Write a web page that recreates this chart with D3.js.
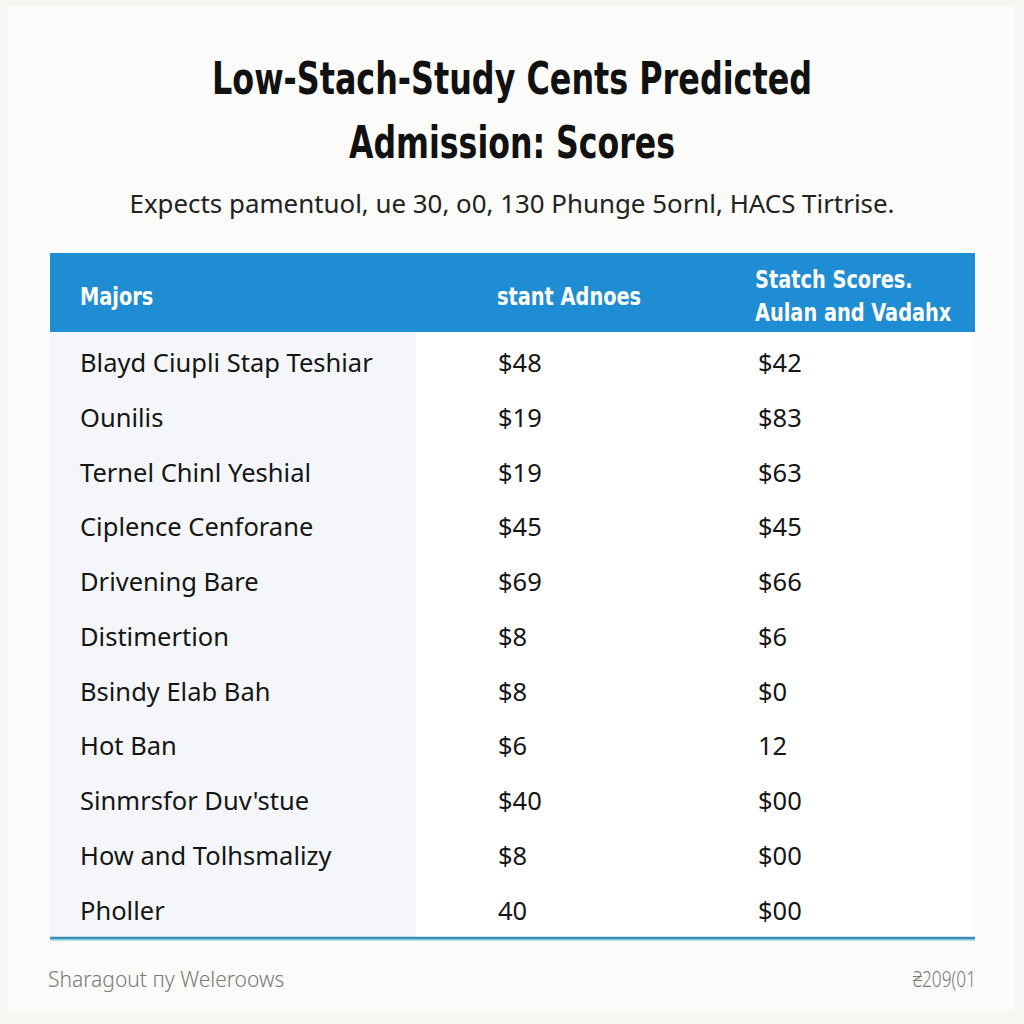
<!DOCTYPE html>
<html>
<head>
<meta charset="utf-8">
<script src="https://cdn.jsdelivr.net/npm/d3@7"></script>
<style>
  body { margin: 0; background: #f7f6f3; }
  svg { display: block; }
</style>
</head>
<body>
<svg id="chart" width="1024" height="1024"></svg>
<script>
// table content
const majors = [
  "Blayd Ciupli Stap Teshiar",
  "Ounilis",
  "Ternel Chinl Yeshial",
  "Ciplence Cenforane",
  "Drivening Bare",
  "Distimertion",
  "Bsindy Elab Bah",
  "Hot Ban",
  "Sinmrsfor Duv'stue",
  "How and Tolhsmalizy",
  "Pholler"
];
const admissions = ["$48", "$19", "$19", "$45", "$69", "$8", "$8", "$6", "$40", "$8", "40"];
const scores = ["$42", "$83", "$63", "$45", "$66", "$6", "$0", "12", "$00", "$00", "$00"];
const columns = ["Majors", "stant Adnoes", ["Statch Scores.", "Aulan and Vadahx"]];

const rows = majors.map((m, i) => ({major: m, adm: admissions[i], score: scores[i]}));

const svg = d3.select("#chart");
const W = 1024;
const left = 50, right = 975;
const condensed = "'DejaVu Sans Condensed', 'DejaVu Sans', sans-serif";
const body = "'Noto Sans', 'Open Sans', sans-serif";

// narrow a text node horizontally so the wide fallback font looks condensed
const squeeze = (sel, k) => sel.each(function() {
  const len = this.getComputedTextLength();
  d3.select(this).attr("textLength", len * k).attr("lengthAdjust", "spacingAndGlyphs");
});

// card
svg.append("rect")
    .attr("x", 8).attr("y", 7)
    .attr("width", 1007).attr("height", 1004)
    .attr("fill", "#fbfbf9");

// title
svg.append("text")
    .attr("x", W / 2).attr("y", 94)
    .attr("text-anchor", "middle")
    .attr("font-family", condensed)
    .attr("font-weight", "bold")
    .attr("font-size", 45)
    .attr("fill", "#111")
    .attr("textLength", 600)
    .attr("lengthAdjust", "spacingAndGlyphs")
    .text("Low-Stach-Study Cents Predicted");
svg.append("text")
    .attr("x", W / 2).attr("y", 158)
    .attr("text-anchor", "middle")
    .attr("font-family", condensed)
    .attr("font-weight", "bold")
    .attr("font-size", 45)
    .attr("fill", "#111")
    .attr("textLength", 326)
    .attr("lengthAdjust", "spacingAndGlyphs")
    .text("Admission: Scores");

svg.append("text")
    .attr("x", W / 2).attr("y", 213)
    .attr("text-anchor", "middle")
    .attr("font-family", body)
    .attr("font-size", 26)
    .attr("fill", "#222")
    .attr("textLength", 765)
    .attr("lengthAdjust", "spacingAndGlyphs")
    .text("Expects pamentuol, ue 30, o0, 130 Phunge 5ornl, HACS Tirtrise.");

// body backgrounds
const tableTop = 332, tableBottom = 937;
svg.append("rect")
    .attr("x", left).attr("y", tableTop)
    .attr("width", right - left).attr("height", tableBottom - tableTop)
    .attr("fill", "#ffffff");
svg.append("rect")
    .attr("x", left).attr("y", tableTop)
    .attr("width", 366).attr("height", tableBottom - tableTop)
    .attr("fill", "#f4f6fa");

// header
svg.append("rect")
    .attr("x", left).attr("y", 253)
    .attr("width", right - left).attr("height", 79)
    .attr("fill", "#1e8dd3");

const colX = [80, 497, 755];
const header = svg.append("g")
    .attr("font-family", condensed)
    .attr("font-weight", "bold")
    .attr("font-size", 25)
    .attr("fill", "#fff");
columns.forEach((c, i) => {
  const lines = Array.isArray(c) ? c : [c];
  lines.forEach((l, j) => {
    header.append("text")
        .attr("x", colX[i])
        .attr("y", lines.length === 1 ? 305 : 288 + j * 33)
        .text(l)
        .call(squeeze, 0.86);
  });
});

// rows
const y = d3.scaleBand()
    .domain(d3.range(rows.length))
    .range([336, 938]);

const row = svg.append("g")
    .attr("font-family", body)
    .attr("font-size", 25.5)
    .attr("fill", "#151515")
    .selectAll("g")
    .data(rows)
    .join("g")
    .attr("transform", (d, i) => `translate(0,${y(i) + y.bandwidth() / 2})`);

row.append("text").attr("x", colX[0]).attr("dy", "0.35em").text(d => d.major);
row.append("text").attr("x", colX[1] + 1).attr("dy", "0.35em").text(d => d.adm);
row.append("text").attr("x", colX[2] + 3).attr("dy", "0.35em").text(d => d.score);

// bottom rule
svg.append("line")
    .attr("x1", left).attr("x2", right)
    .attr("y1", 939).attr("y2", 939)
    .attr("stroke", "#a9e3ef").attr("stroke-width", 4);
svg.append("line")
    .attr("x1", left).attr("x2", right)
    .attr("y1", 938).attr("y2", 938)
    .attr("stroke", "#3a8db3").attr("stroke-width", 2.5);

// footer
const foot = svg.append("g")
    .attr("font-family", body)
    .attr("font-weight", 300)
    .attr("font-size", 21)
    .attr("fill", "#7a7a7a");
foot.append("text")
    .attr("x", 48).attr("y", 987)
    .text("Sharagout пу Weleroows");
foot.append("text")
    .attr("x", 976).attr("y", 987)
    .attr("text-anchor", "end")
    .text("₴209(01")
    .call(squeeze, 0.82);
</script>
</body>
</html>
